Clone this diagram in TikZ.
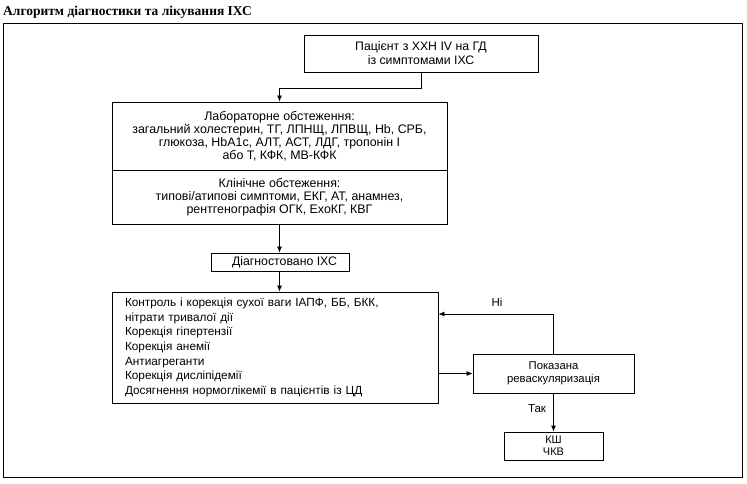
\documentclass[tikz,border=0pt]{standalone}
\usepackage{fontspec}
\setmainfont{Liberation Sans}
\newfontfamily\titlefont{Liberation Serif}
\usetikzlibrary{arrows.meta}
\tikzset{
  box/.style={draw, line width=0.8pt, inner sep=0pt, align=center, font=\fontsize{12.4}{12.9}\selectfont},
  arr/.style={line width=0.8pt, -{Latex[length=6pt,width=5pt]}},
  lbl/.style={font=\fontsize{11.5}{13}\selectfont, inner sep=0pt}
}
\begin{document}
\begin{tikzpicture}[x=1pt,y=1pt]
\useasboundingbox (0,0) rectangle (747,-484);
\node[anchor=base west, inner sep=0pt, font=\titlefont\bfseries\fontsize{13.5}{15}\selectfont] (title) at (3,-16) {Алгоритм діагностики та лікування ІХС};
\draw[line width=1pt] (3,-24) rectangle (742,-477);
\node[box, minimum width=234, minimum height=37, font=\fontsize{12.3}{14}\selectfont] (p) at (421,-53.5) {Пацієнт з ХХН IV на ГД\\із симптомами ІХС};
\node[box, minimum width=335, minimum height=68] (lab) at (279.5,-136) {Лабораторне обстеження:\\загальний холестерин, ТГ, ЛПНЩ, ЛПВЩ, Hb, СРБ,\\глюкоза, HbA1c, АЛТ, АСТ, ЛДГ, тропонін I\\або Т, КФК, МВ-КФК};
\node[box, minimum width=335, minimum height=54] (clin) at (279.5,-197) {Клінічне обстеження:\\типові/атипові симптоми, ЕКГ, АТ, анамнез,\\рентгенографія ОГК, ЕхоКГ, КВГ};
\node[box, minimum width=138, minimum height=18, font=\fontsize{12.3}{14}\selectfont] (dx) at (280,-262) {\hspace*{9pt}Діагностовано ІХС};
\node[box, minimum height=111, text width=300, align=left, inner xsep=13pt, font=\fontsize{11.8}{14.6}\selectfont] (tr) at (275,-347.5) {Контроль і корекція сухої ваги ІАПФ, ББ, БКК,\\нітрати тривалої дії\\Корекція гіпертензії\\Корекція анемії\\Антиагреганти\\Корекція дисліпідемії\\Досягнення нормоглікемії в пацієнтів із ЦД};
\node[box, minimum width=161, minimum height=39, font=\fontsize{11.3}{13.3}\selectfont] (rv) at (553.5,-373.5) {Показана\\реваскуляризація};
\node[box, minimum width=99, minimum height=28, font=\fontsize{11}{12}\selectfont] (k) at (553.5,-446) {КШ\\ЧКВ};
\draw[arr] (p.south) -- ++(0,-16) -| (lab.north);
\draw[arr] (clin.south) -- (clin.south |- dx.north);
\draw[arr] (clin.south |- dx.south) -- (clin.south |- tr.north);
\draw[arr] (tr.east |- rv.west) -- (rv.west);
\coordinate (nb) at (tr.east |- 0,-314);
\draw[arr] (rv.north) |- (nb);
\node[lbl] (ni) at (497,-302) {Ні};
\draw[arr] (rv.south) -- (k.north);
\node[lbl] (tak) at (537,-409) {Так};
\end{tikzpicture}
\end{document}
